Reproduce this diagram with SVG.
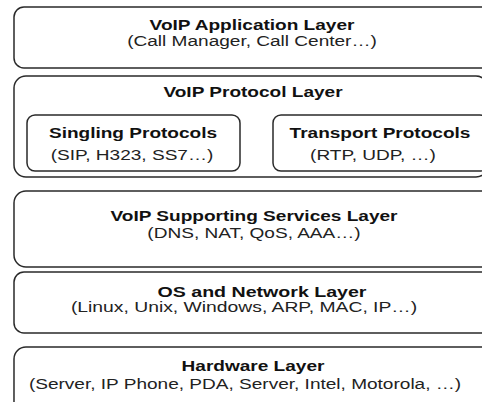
<svg xmlns="http://www.w3.org/2000/svg" width="482" height="402" viewBox="0 0 482 402">
<style>
.box{fill:#fff;stroke:#2a2a2a;stroke-width:1.5}
.t{font-family:"Liberation Sans",Arial,sans-serif;font-weight:bold;font-size:14px;fill:#111;text-anchor:middle}
.s{font-family:"Liberation Sans",Arial,sans-serif;font-size:14px;fill:#222;text-anchor:middle}
</style>
<rect width="482" height="402" fill="#fff"/>
<g id="app">
<rect class="box" x="14" y="7" width="490" height="61" rx="10"/>
<text class="t" transform="matrix(1.36 0 0 1 252 30)">VoIP Application Layer</text>
<text class="s" transform="matrix(1.36 0 0 1 252 46)">(Call Manager, Call Center…)</text>
</g>
<g id="protocol">
<rect class="box" x="14" y="76" width="474" height="101" rx="12"/>
<text class="t" transform="matrix(1.36 0 0 1 253 97)">VoIP Protocol Layer</text>
</g>
<g id="singling">
<rect class="box" x="27" y="115" width="213" height="56" rx="8"/>
<text class="t" transform="matrix(1.36 0 0 1 133 138)">Singling Protocols</text>
<text class="s" transform="matrix(1.36 0 0 1 132 160)">(SIP, H323, SS7…)</text>
</g>
<g id="transport">
<rect class="box" x="273" y="115" width="215" height="56" rx="8"/>
<text class="t" transform="matrix(1.36 0 0 1 380 138)">Transport Protocols</text>
<text class="s" transform="matrix(1.36 0 0 1 373 160)">(RTP, UDP, …)</text>
</g>
<g id="supporting">
<rect class="box" x="14" y="191" width="490" height="76" rx="12"/>
<text class="t" transform="matrix(1.36 0 0 1 254 221)">VoIP Supporting Services Layer</text>
<text class="s" transform="matrix(1.36 0 0 1 254 238)">(DNS, NAT, QoS, AAA…)</text>
</g>
<g id="os">
<rect class="box" x="14" y="272" width="490" height="61" rx="10"/>
<text class="t" transform="matrix(1.4 0 0 1 262 297)">OS and Network Layer</text>
<text class="s" transform="matrix(1.38 0 0 1 244 312)">(Linux, Unix, Windows, ARP, MAC, IP…)</text>
</g>
<g id="hardware">
<rect class="box" x="14" y="347" width="490" height="70" rx="12"/>
<text class="t" transform="matrix(1.36 0 0 1 253 371)">Hardware Layer</text>
<text class="s" transform="matrix(1.36 0 0 1 245 389)">(Server, IP Phone, PDA, Server, Intel, Motorola, …)</text>
</g>
<g id="connectors"/>
</svg>
